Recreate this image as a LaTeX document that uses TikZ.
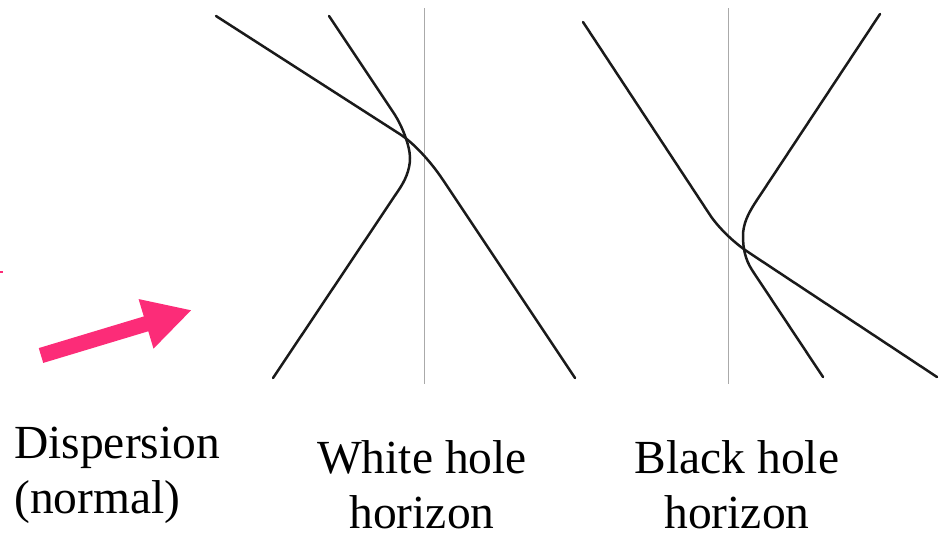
\documentclass[tikz,border=0pt]{standalone}
\usepackage{fontspec}
\setmainfont{Liberation Serif}
\usetikzlibrary{arrows.meta}
\definecolor{hotpink}{HTML}{FC2C78}
\definecolor{rule}{HTML}{AAAAAA}
\definecolor{ink}{HTML}{1A1A1A}
\tikzset{
  branch/.style={draw=ink,line width=2.5pt,line cap=round,line join=round},
  horizon/.style={draw=rule,line width=1.1pt},
  caption/.style={inner sep=0pt,font=\fontsize{47.5}{55}\selectfont},
  bigarrow/.style={draw=hotpink,line width=15.5pt,-{Triangle[length=48pt,width=48pt]}}
}
\begin{document}
\begin{tikzpicture}[x=1pt,y=-1pt]
    \useasboundingbox (0,0) rectangle (945,538);
    % white hole
    \draw[horizon] (424.5,8) -- (424.5,384);
    \draw[branch] (216,16) -- (400,134.2) .. controls (413.2,142.7) and (430.4,161) .. (443,180) -- (575,378);
    \draw[branch] (329,16) -- (395,115) .. controls (402,126) and (410,146) .. (410,158)
      .. controls (410,170) and (405,181) .. (398,191) -- (273,378);
    % black hole
    \draw[horizon] (728.3,8) -- (728.3,384);
    \draw[branch] (583,22) -- (710,215) .. controls (718.4,227.6) and (733.6,242.4) .. (748,252) -- (937,377);
    \draw[branch] (880,14) -- (755,203) .. controls (748,214) and (743,224) .. (743,236)
      .. controls (743,248) and (745,259) .. (752,270) -- (823,377);
    % arrow
    \coordinate (tail) at (41,355.5);
    \coordinate (tip) at (192,310);
    \draw[bigarrow] (tail) -- (tip);
    \draw[hotpink,line width=1.5pt] (0,272) -- (3,272);
    % labels (base = last line)
    \node[caption,anchor=base west,align=left] (disp) at (14,513) {Dispersion\\(normal)};
    \node[caption,anchor=base,align=center] (white) at (422,528) {White hole\\horizon};
    \node[caption,anchor=base,align=center] (black) at (737,528) {Black hole\\horizon};
\end{tikzpicture}
\end{document}
